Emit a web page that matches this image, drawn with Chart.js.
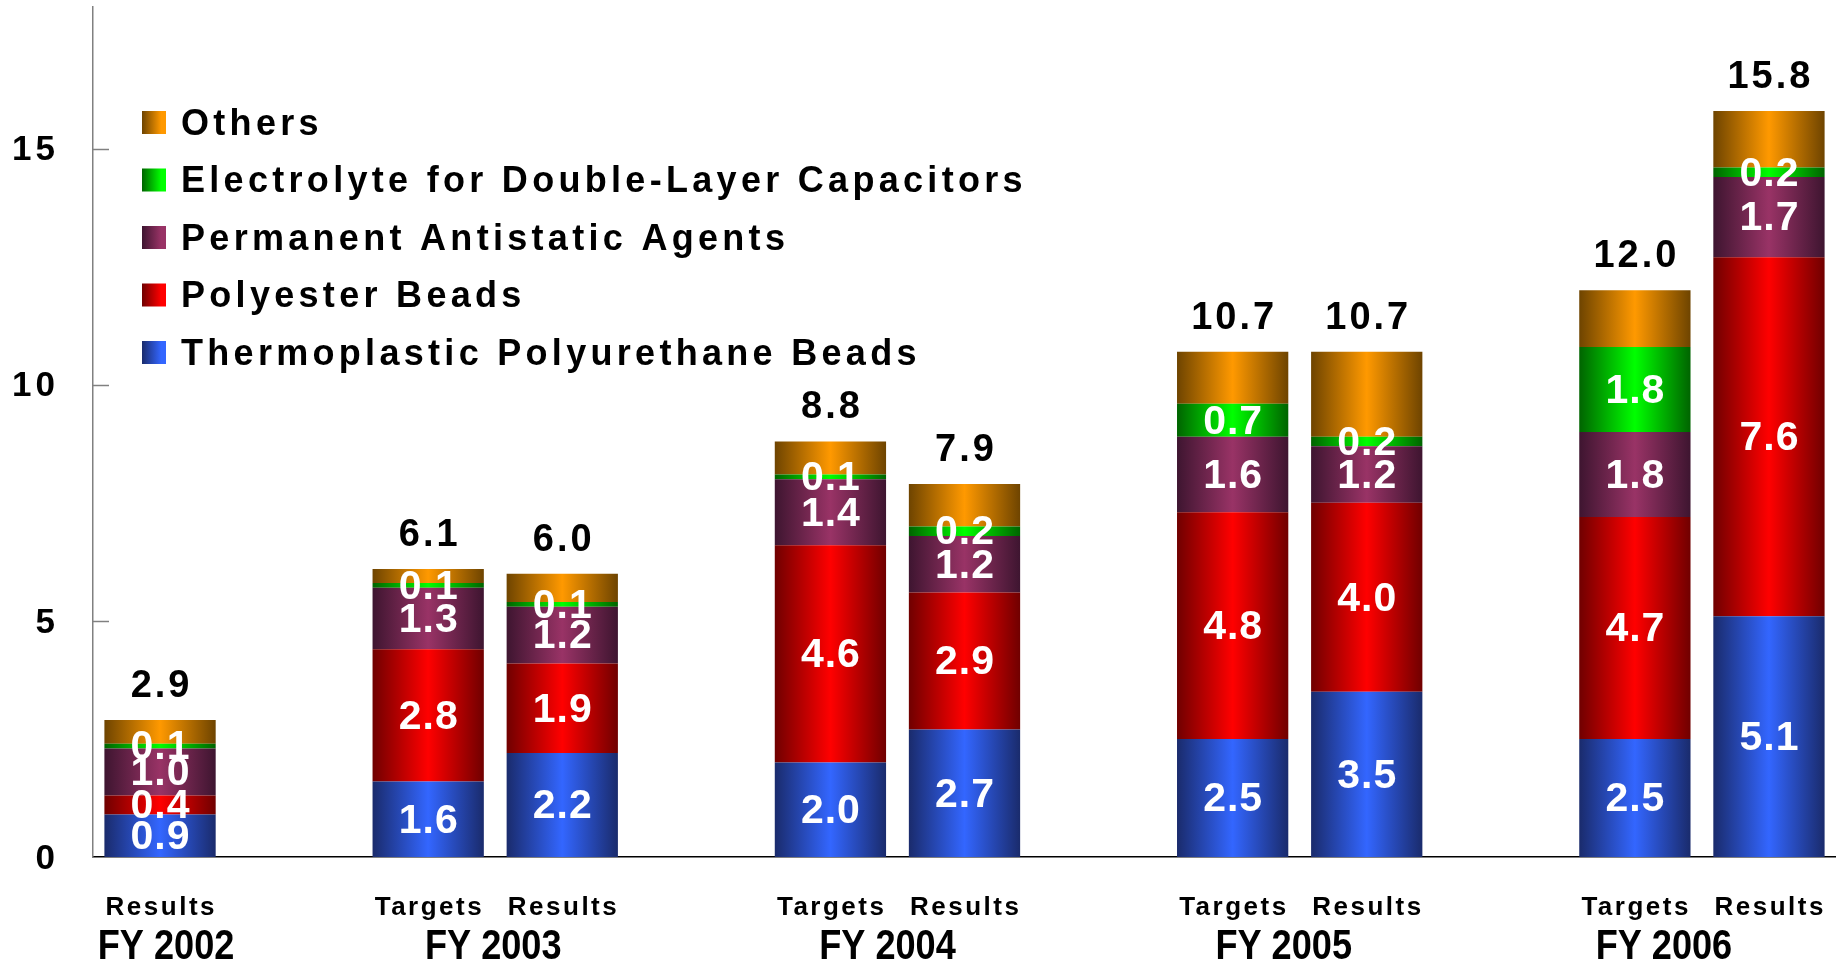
<!DOCTYPE html>
<html>
<head>
<meta charset="utf-8">
<script src="https://cdn.jsdelivr.net/npm/chart.js@4.4.0/dist/chart.umd.min.js"></script>
<style>
  html, body { margin: 0; padding: 0; background: #fff; }
  #wrap { width: 1836px; height: 963px; position: relative; }
</style>
</head>
<body>
<div id="wrap"><canvas id="chart"></canvas></div>
<script>
// slots: empty strings are the gaps between fiscal years
const categories = ['Results', '', 'Targets', 'Results', '', 'Targets', 'Results', '', 'Targets', 'Results', '', 'Targets', 'Results'];
const fiscalYears = ['FY 2002', 'FY 2003', 'FY 2004', 'FY 2005', 'FY 2006'];
const fiscalSlots = [[0], [2, 3], [5, 6], [8, 9], [11, 12]];

const tpuBeads    = [0.9, null, 1.6, 2.2, null, 2.0, 2.7, null, 2.5, 3.5, null, 2.5, 5.1];
const polyBeads   = [0.4, null, 2.8, 1.9, null, 4.6, 2.9, null, 4.8, 4.0, null, 4.7, 7.6];
const antistatic  = [1.0, null, 1.3, 1.2, null, 1.4, 1.2, null, 1.6, 1.2, null, 1.8, 1.7];
const electrolyte = [0.1, null, 0.1, 0.1, null, 0.1, 0.2, null, 0.7, 0.2, null, 1.8, 0.2];
const others      = [0.5, null, 0.3, 0.6, null, 0.7, 0.9, null, 1.1, 1.8, null, 1.2, 1.2];
const totals      = [2.9, null, 6.1, 6.0, null, 8.8, 7.9, null, 10.7, 10.7, null, 12.0, 15.8];

const yTicks = [0, 5, 10, 15];

// [bright, dark] pairs for the cylinder-like shading
const shades = {
  blue:   ['#3366ff', '#1a2b6c'],
  red:    ['#ff0000', '#700000'],
  purple: ['#993366', '#3e1530'],
  green:  ['#00ff00', '#006400'],
  orange: ['#ff9900', '#6e4400']
};

const BAR_PCT = 0.83;

function barGradient(pair) {
  return (c) => {
    const chart = c.chart;
    const xs = chart.scales.x;
    if (!chart.chartArea || !xs || c.dataIndex === undefined) return pair[0];
    const cx = xs.getPixelForValue(c.dataIndex);
    const slot = xs.width / categories.length;
    const w = slot * BAR_PCT;
    const g = chart.ctx.createLinearGradient(cx - w / 2, 0, cx + w / 2, 0);
    g.addColorStop(0, pair[1]);
    g.addColorStop(0.5, pair[0]);
    g.addColorStop(1, pair[1]);
    return g;
  };
}

const FONT = '"Liberation Sans", Arial, sans-serif';

const textPlugin = {
  id: 'texts',
  afterDatasetsDraw(chart) {
    const { ctx, scales: { x, y } } = chart;
    ctx.save();

    // inward tick marks on the value axis
    ctx.strokeStyle = '#808080';
    ctx.lineWidth = 1.5;
    yTicks.forEach(v => {
      if (v === 0) return;
      const py = Math.round(y.getPixelForValue(v)) + 0.5;
      ctx.beginPath();
      ctx.moveTo(x.left, py);
      ctx.lineTo(x.left + 16, py);
      ctx.stroke();
    });

    // value axis labels
    ctx.fillStyle = '#000';
    ctx.font = 'bold 35px ' + FONT;
    ctx.letterSpacing = '4px';
    ctx.textAlign = 'right';
    ctx.textBaseline = 'middle';
    yTicks.forEach(v => {
      ctx.fillText(String(v), 59, y.getPixelForValue(v) + 2);
    });

    // segment values (Others has none)
    ctx.fillStyle = '#fff';
    ctx.font = 'bold 41px ' + FONT;
    ctx.letterSpacing = '1px';
    ctx.textAlign = 'center';
    ctx.textBaseline = 'middle';
    for (let d = 0; d < 4; d++) {
      const meta = chart.getDatasetMeta(d);
      const vals = chart.data.datasets[d].data;
      meta.data.forEach((el, i) => {
        if (vals[i] == null) return;
        ctx.fillText(vals[i].toFixed(1), el.x + 0.5, (el.y + el.base) / 2 + 2);
      });
    }

    // totals above each stack
    ctx.fillStyle = '#000';
    ctx.font = 'bold 38px ' + FONT;
    ctx.letterSpacing = '3px';
    ctx.textBaseline = 'alphabetic';
    totals.forEach((t, i) => {
      if (t == null) return;
      ctx.fillText(t.toFixed(1), x.getPixelForValue(i) + 1.5, y.getPixelForValue(t) - 23);
    });

    // Targets / Results under the bars
    ctx.font = 'bold 26px ' + FONT;
    ctx.letterSpacing = '2.5px';
    categories.forEach((lab, i) => {
      if (!lab) return;
      ctx.fillText(lab, x.getPixelForValue(i) + 1.25, 915);
    });

    // fiscal year labels
    const nudge = [6, -2, -10, -16, -38];
    ctx.font = 'bold 42px ' + FONT;
    ctx.letterSpacing = '0px';
    fiscalYears.forEach((fy, g) => {
      const slots = fiscalSlots[g];
      const cx = slots.reduce((s, i) => s + x.getPixelForValue(i), 0) / slots.length + nudge[g];
      ctx.save();
      ctx.translate(cx, 959);
      ctx.scale(0.86, 1);
      ctx.fillText(fy, 0, 0);
      ctx.restore();
    });

    // legend, top series first
    ctx.font = 'bold 36px ' + FONT;
    ctx.letterSpacing = '4.3px';
    ctx.textAlign = 'left';
    ctx.textBaseline = 'middle';
    const items = chart.data.datasets.slice().reverse();
    items.forEach((ds, k) => {
      const cy = 123 + k * 57.5;
      const g = ctx.createLinearGradient(142, 0, 166, 0);
      g.addColorStop(0, ds.shade[1]);
      g.addColorStop(0.8, ds.shade[0]);
      g.addColorStop(1, ds.shade[0]);
      ctx.fillStyle = g;
      ctx.fillRect(142, cy - 12, 24, 23);
      ctx.fillStyle = '#000';
      ctx.fillText(ds.label, 181, cy + 2);
    });

    ctx.restore();
  }
};

const series = [
  { label: 'Thermoplastic Polyurethane Beads', data: tpuBeads, shade: shades.blue },
  { label: 'Polyester Beads', data: polyBeads, shade: shades.red },
  { label: 'Permanent Antistatic Agents', data: antistatic, shade: shades.purple },
  { label: 'Electrolyte for Double-Layer Capacitors', data: electrolyte, shade: shades.green },
  { label: 'Others', data: others, shade: shades.orange }
];

new Chart(document.getElementById('chart'), {
  type: 'bar',
  data: {
    labels: categories,
    datasets: series.map(s => ({
      label: s.label,
      data: s.data,
      shade: s.shade,
      backgroundColor: barGradient(s.shade),
      borderWidth: 0,
      categoryPercentage: 1,
      barPercentage: BAR_PCT
    }))
  },
  options: {
    responsive: true,
    maintainAspectRatio: false,
    animation: false,
    layout: { padding: { top: 7, right: 0, left: 0, bottom: 0 } },
    plugins: {
      legend: { display: false },
      tooltip: { enabled: false }
    },
    scales: {
      x: {
        stacked: true,
        grid: { display: false },
        border: { display: true, color: '#000', width: 1.5 },
        ticks: { display: false },
        afterFit: (s) => { s.height = 106; }
      },
      y: {
        stacked: true,
        min: 0,
        max: 18,
        grid: { display: false },
        border: { display: true, color: '#808080', width: 1.5 },
        ticks: { display: false, stepSize: 5 },
        afterFit: (s) => { s.width = 93; }
      }
    }
  },
  plugins: [textPlugin]
});
</script>
</body>
</html>
